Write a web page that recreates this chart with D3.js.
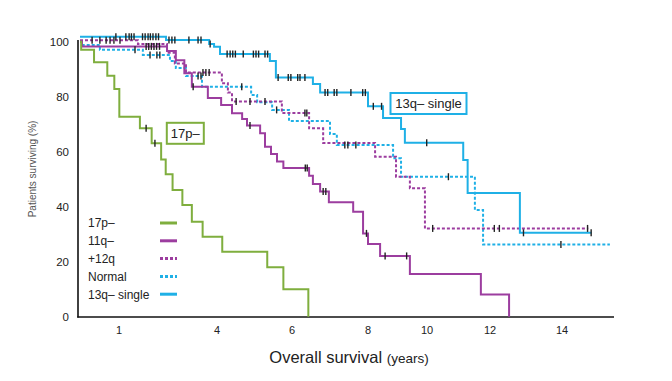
<!DOCTYPE html>
<html><head><meta charset="utf-8">
<script src="https://cdn.jsdelivr.net/npm/d3@7"></script>
<style>
html,body{margin:0;padding:0;background:#fff;}
svg{display:block;font-family:Arial,"Liberation Sans",sans-serif;}
</style></head>
<body><div id="chart"></div>
<script>
// ---- data ----
const groups = ["17p–", "11q–", "+12q", "Normal", "13q– single"];
const xTicks = [1, 4, 6, 8, 10, 12, 14];
const yTicks = [0, 20, 40, 60, 80, 100];

const t17p = [0, 0.03, 0.36, 0.70, 0.88, 1.01, 1.64, 2.00, 2.29, 2.43, 2.64, 2.94, 3.23, 3.56, 4.14, 5.34, 5.77, 6.43];
const s17p = [100, 97.1, 92.5, 87.6, 82.8, 72.7, 68.5, 63.1, 57.2, 51.8, 46.1, 40.6, 34.5, 29.1, 23.6, 18.0, 10.0, 0];
const c17p = [1.83, 2.10];

const t11q = [0, 0.05, 2.47, 2.74, 3.0, 3.23, 3.72, 4.11, 4.40, 4.67, 4.80, 5.15, 5.28, 5.44, 5.60, 5.77, 6.45, 6.55, 6.74, 6.97, 7.61, 7.87, 8.00, 8.41, 9.42, 11.71, 12.53];
const s11q = [100, 98.3, 96.6, 93.3, 88.5, 83.6, 79.5, 77, 74, 71.9, 69.5, 66.7, 61.8, 59.2, 56.4, 54.1, 51.3, 48.3, 45.5, 41.6, 38.2, 30.3, 26.4, 22.1, 15.5, 8.1, 0];
const c11q = [1.83, 1.91, 1.99, 2.07, 2.15, 2.24, 3.27, 4.88, 6.35, 6.40, 6.82, 6.89, 7.96, 8.58, 9.31];

const t12q = [0, 1.58, 2.47, 2.71, 3.05, 4.13, 4.29, 4.40, 5.73, 6.45, 6.82, 8.24, 8.95, 9.42, 9.93, 14.73];
const s12q = [100.5, 99.2, 96, 92.1, 88.8, 84.9, 81.5, 78.3, 74.1, 68.5, 63.2, 58.2, 50.9, 46.7, 32.1, 32.1];
const c12q = [0.31, 0.51, 0.67, 0.77, 0.87, 1.03, 3.57, 3.66, 3.76, 4.51, 4.88, 5.28, 6.34, 6.39, 10.18, 12.12, 12.26, 14.71];

const tNorm = [0, 0.05, 0.51, 1.73, 2.56, 2.74, 3.05, 3.54, 4.91, 5.07, 5.47, 5.92, 7.0, 7.18, 8.85, 9.12, 11.52, 11.78, 15.33];
const sNorm = [100, 98.8, 97.1, 95.2, 93, 90.4, 87.5, 83.6, 80.6, 78, 75.2, 71.2, 66.4, 62.4, 57.6, 50.9, 38.8, 26.3, 26.3];
const cNorm = [1.49, 1.95, 2.16, 2.25, 3.42, 3.51, 4.66, 5.59, 7.39, 7.47, 7.68, 10.68, 13.97];

const t13q = [0, 2.44, 3.76, 3.91, 4.08, 5.41, 5.57, 6.55, 6.74, 8.0, 8.51, 9.12, 9.25, 11.15, 11.29, 12.83, 14.82];
const s13q = [101.8, 100.6, 99.2, 98.2, 95.5, 93, 87, 84.6, 81.5, 76.5, 72.3, 68.3, 63.3, 57, 45, 30.5, 30.5];
const c13q = [0.92, 1.21, 1.31, 1.38, 1.46, 1.72, 1.80, 1.89, 1.96, 2.04, 2.13, 2.21, 2.53, 2.62, 2.71, 3.14, 3.42, 3.51, 3.79,
  4.27, 4.35, 4.42, 4.49, 4.70, 4.97, 5.04, 5.11, 5.28, 5.35, 5.63, 5.90, 5.97, 6.15, 6.21, 6.34,
  6.87, 6.94, 7.11, 7.18, 7.55, 7.86, 7.93, 8.18, 8.46, 9.99, 12.93, 14.81];

// ---- styles ----
const GREEN = "#7fae3e", PURPLE = "#9c3d9f", BLUE = "#1fb0e6";
const series = [
  {name: groups[3], t: tNorm, s: sNorm, c: cNorm, color: BLUE, dash: "3,2"},
  {name: groups[2], t: t12q, s: s12q, c: c12q, color: PURPLE, dash: "3,2"},
  {name: groups[1], t: t11q, s: s11q, c: c11q, color: PURPLE, dash: null},
  {name: groups[0], t: t17p, s: s17p, c: c17p, color: GREEN, dash: null},
  {name: groups[4], t: t13q, s: s13q, c: c13q, color: BLUE, dash: null}
];

const W = 672, H = 381;
const svg = d3.select("#chart").append("svg").attr("width", W).attr("height", H);

const x = d3.scaleLinear().domain([0, 1, 4, 6, 8, 10, 12, 14, 16]).range([80, 119, 217, 292, 368, 427, 490, 562, 634]);
const y = d3.scaleLinear().domain([0, 100]).range([316.7, 41.7]);

// axes lines
svg.append("line").attr("x1", 78).attr("x2", 78).attr("y1", 40).attr("y2", 317.5)
  .attr("stroke", "#111").attr("stroke-width", 1.6);
svg.append("line").attr("x1", 77.2).attr("x2", 614).attr("y1", 317).attr("y2", 317)
  .attr("stroke", "#111").attr("stroke-width", 1.6);

// tick labels
svg.append("g").selectAll("text").data(yTicks).join("text")
  .attr("x", 69).attr("y", d => y(d)).attr("dy", "0.36em").attr("text-anchor", "end")
  .attr("font-size", 11.5).attr("fill", "#222").text(d => d);
svg.append("g").selectAll("text").data(xTicks).join("text")
  .attr("x", d => x(d)).attr("y", 334).attr("text-anchor", "middle")
  .attr("font-size", 11).attr("fill", "#222").text(d => d);

// axis titles
svg.append("text").attr("transform", "translate(36,169) rotate(-90)").attr("text-anchor", "middle")
  .attr("font-size", 10).attr("fill", "#555").text("Patients surviving (%)");
const xt = svg.append("text").attr("x", 349).attr("y", 363).attr("text-anchor", "middle").attr("fill", "#222");
xt.append("tspan").attr("font-size", 16.5).text("Overall survival ");
xt.append("tspan").attr("font-size", 13.5).text("(years)");

// curves
const line = d3.line().x(d => x(d[0])).y(d => y(d[1])).curve(d3.curveStepAfter);
function valAt(sr, tt) {
  let v = sr.s[0];
  for (let i = 0; i < sr.t.length; i++) if (sr.t[i] <= tt) v = sr.s[i];
  return v;
}
series.forEach(sr => {
  const pts = sr.t.map((t, i) => [t, sr.s[i]]);
  const p = svg.append("path").attr("d", line(pts)).attr("fill", "none")
    .attr("stroke", sr.color).attr("stroke-width", 2);
  if (sr.dash) p.attr("stroke-dasharray", sr.dash);
});
series.forEach(sr => {
  svg.append("g").selectAll("line").data(sr.c).join("line")
    .attr("x1", d => x(d)).attr("x2", d => x(d))
    .attr("y1", d => y(valAt(sr, d)) - 3.5).attr("y2", d => y(valAt(sr, d)) + 3.5)
    .attr("stroke", "#222").attr("stroke-width", 1.4);
});

// legend
const legendOrder = [
  {name: groups[0], color: GREEN, dash: null},
  {name: groups[1], color: PURPLE, dash: null},
  {name: groups[2], color: PURPLE, dash: "3,2"},
  {name: groups[3], color: BLUE, dash: "3,2"},
  {name: groups[4], color: BLUE, dash: null}
];
const lg = svg.append("g");
legendOrder.forEach((d, i) => {
  const yy = 223 + i * 17.8;
  lg.append("text").attr("x", 88).attr("y", yy).attr("dy", "0.36em").attr("font-size", 12)
    .attr("fill", "#222").text(d.name);
  const l = lg.append("line").attr("x1", 160).attr("x2", 177).attr("y1", yy).attr("y2", yy)
    .attr("stroke", d.color).attr("stroke-width", 3);
  if (d.dash) l.attr("stroke-dasharray", d.dash);
});

// boxed labels
function boxLabel(txt, cx, cy, w, h, color) {
  svg.append("rect").attr("x", cx - w / 2).attr("y", cy - h / 2).attr("width", w).attr("height", h)
    .attr("fill", "#fff").attr("stroke", color).attr("stroke-width", 2);
  svg.append("text").attr("x", cx).attr("y", cy).attr("dy", "0.36em").attr("text-anchor", "middle")
    .attr("font-size", 13).attr("fill", "#222").text(txt);
}
boxLabel(groups[0], 185.3, 133.3, 37, 21, GREEN);
boxLabel(groups[4], 428.5, 103.5, 76, 21, BLUE);
</script></body></html>
